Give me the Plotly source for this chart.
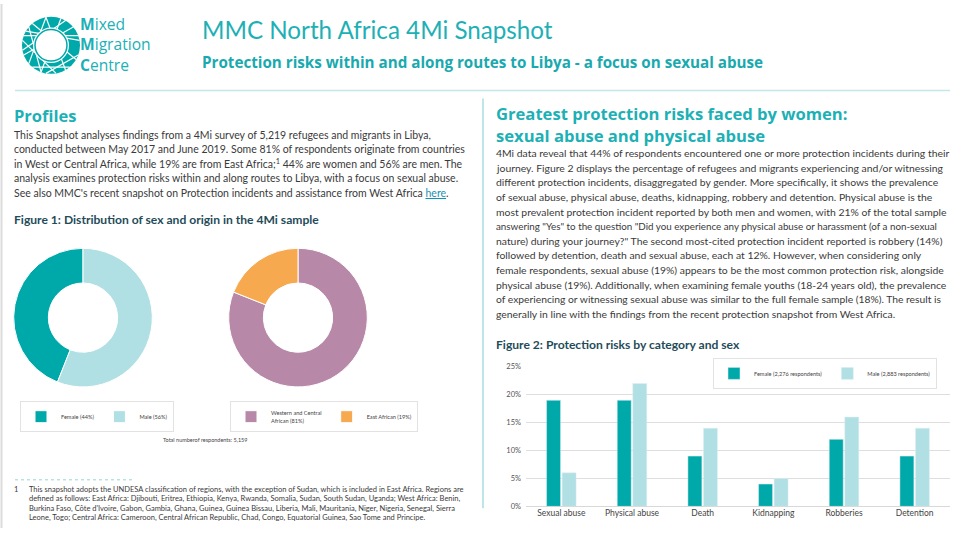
import math
import plotly.graph_objects as go

W, H = 965, 533
def fx(x): return x / W
def fy(y): return 1 - y / H

# ---------------- data ----------------
categories = ["Sexual abuse", "Physical abuse", "Death", "Kidnapping", "Robberies", "Detention"]
female_pct = [19, 19, 9, 4, 12, 9]
male_pct = [6, 22, 14, 5, 16, 14]
female_name = "Female (2,276 respondents)"
male_name = "Male (2,883 respondents)"

sex_labels = ["Female (44%)", "Male (56%)"]
sex_values = [44, 56]
origin_labels = ["Western and Central<br>African (81%)", "East African (19%)"]
origin_values = [81, 19]

y_ticks = [0, 5, 10, 15, 20, 25]
y_tick_labels = ["0%", "5%", "10%", "15%", "20%", "25%"]

TEAL = "#00a9a9"
LIGHT = "#b0e0e3"
PURPLE = "#b888a8"
ORANGE = "#f6a94e"
HEAD = "#1db0b5"
DARK = "#1f4c5a"
BODY = "#3a3a3a"
FONT = "Lato"
HFONT = "Open Sans"

fig = go.Figure()

fig.add_trace(go.Bar(x=categories, y=female_pct, name=female_name, marker_color=TEAL,
                     legend="legend", xaxis="x", yaxis="y"))
fig.add_trace(go.Bar(x=categories, y=male_pct, name=male_name, marker_color=LIGHT,
                     legend="legend", xaxis="x", yaxis="y"))

fig.add_trace(go.Pie(labels=sex_labels, values=sex_values, hole=0.5, sort=False,
                     direction="clockwise", rotation=201.6,
                     marker=dict(colors=[TEAL, LIGHT], line=dict(color="white", width=1)),
                     textinfo="none", legend="legend2",
                     domain=dict(x=[fx(12.5), fx(153.5)], y=[fy(389.5), fy(248.5)])))
fig.add_trace(go.Pie(labels=origin_labels, values=origin_values, hole=0.5, sort=False,
                     direction="clockwise", rotation=0,
                     marker=dict(colors=[PURPLE, ORANGE], line=dict(color="white", width=1)),
                     textinfo="none", legend="legend3",
                     domain=dict(x=[fx(227.5), fx(368.5)], y=[fy(389.5), fy(248.5)])))

shapes = []
def line(x0, y0, x1, y1, color, width=1, dash="solid"):
    shapes.append(dict(type="line", xref="paper", yref="paper", x0=fx(x0), y0=fy(y0),
                       x1=fx(x1), y1=fy(y1), line=dict(color=color, width=width, dash=dash)))
def circle(cx, cy, r, fill, lc=None, lw=0):
    shapes.append(dict(type="circle", xref="paper", yref="paper", x0=fx(cx - r), x1=fx(cx + r),
                       y0=fy(cy + r), y1=fy(cy - r), fillcolor=fill,
                       line=dict(color=lc or fill, width=lw)))

# page frame & dividers
line(1.5, 0, 1.5, 533, "#dcdcdc", 2)
line(15, 88, 950, 88, "#c3e8ea", 1.5)
line(483, 96, 483, 513, "#a8dde0", 1.5)
line(15, 484, 135, 484, "#8fd6d9", 1, "dot")

# logo
cx, cy = 51, 42
circle(cx, cy, 29, TEAL)
for a0, a1 in [(10, 150), (40, 200), (70, 250), (100, 300), (130, 330), (160, 20), (190, 60),
               (220, 100), (250, 140), (280, 170), (310, 230), (340, 260)]:
    x0 = cx + 29 * math.cos(math.radians(a0)); y0 = cy - 29 * math.sin(math.radians(a0))
    x1 = cx + 29 * math.cos(math.radians(a1)); y1 = cy - 29 * math.sin(math.radians(a1))
    line(x0, y0, x1, y1, "white", 1.2)
circle(cx, cy, 18, "white")
circle(cx, cy, 16, "rgba(0,0,0,0)", TEAL, 1.5)

fig.update_layout(shapes=shapes)

ann = []
def text(x, y, s, size, color=BODY, bold=False, anchor="left", family=FONT, align="left"):
    ann.append(dict(x=fx(x), y=fy(y), xref="paper", yref="paper", xanchor=anchor, yanchor="middle",
                    text=("<b>%s</b>" % s) if bold else s, showarrow=False, align=align,
                    borderpad=0, font=dict(size=size, color=color, family=family)))

# logo text
text(79, 41, "<b>M</b>ixed<br><b>M</b>igration<br><b>C</b>entre", 15.6, HEAD, family=HFONT)

# header
text(201, 26, "MMC North Africa 4Mi Snapshot", 24.2, HEAD)
text(201, 59, "Protection risks within and along routes to Libya - a focus on sexual abuse", 15.2,
     "#19a9ae", True, family=HFONT)

# left column
text(13, 113, "Profiles", 16.5, HEAD, True, family=HFONT)
left_lines = [
    "This Snapshot analyses findings from a 4Mi survey of 5,219 refugees and migrants in Libya,",
    "conducted between May 2017 and June 2019. Some 81% of respondents originate from countries",
    "in West or Central Africa, while 19% are from East Africa;<sup>1</sup> 44% are women and 56% are men. The",
    "analysis examines protection risks within and along routes to Libya, with a focus on sexual abuse.",
    "See also MMC's recent snapshot on Protection incidents and assistance from West Africa <span style='color:#1a8fb0'><u>here</u></span>.",
]
for i, s in enumerate(left_lines):
    text(13, 133 + i * 14.75, s, 10.5)

text(13, 219, "Figure 1: Distribution of sex and origin in the 4Mi sample", 12.1, DARK, True)
text(205, 443, "Total numberof respondents: 5,159", 5.5, "#444", anchor="center")

foot = [
    "This snapshot adopts the UNDESA classification of regions, with the exception of Sudan, which is included in East Africa. Regions are",
    "defined as follows: East Africa: Djibouti, Eritrea, Ethiopia, Kenya, Rwanda, Somalia, Sudan, South Sudan, Uganda; West Africa: Benin,",
    "Burkina Faso, Côte d'Ivoire, Gabon, Gambia, Ghana, Guinea, Guinea Bissau, Liberia, Mali, Mauritania, Niger, Nigeria, Senegal, Sierra",
    "Leone, Togo; Central Africa: Cameroon, Central African Republic, Chad, Congo, Equatorial Guinea, Sao Tome and Principe.",
]
text(13, 494, "1", 7.5)
for i, s in enumerate(foot):
    text(28, 494 + i * 9.4, s, 7.5)

# right column
text(495, 123, "Greatest protection risks faced by women:<br>sexual abuse and physical abuse", 16.6,
     HEAD, True, family=HFONT)
right_lines = [
    "4Mi data reveal that 44% of respondents encountered one or more protection incidents during their",
    "journey. Figure 2 displays the percentage of refugees and migrants experiencing and/or witnessing",
    "different protection incidents, disaggregated by gender. More specifically, it shows the prevalence",
    "of sexual abuse, physical abuse, deaths, kidnapping, robbery and detention. Physical abuse is the",
    "most prevalent protection incident reported by both men and women, with 21% of the total sample",
    "answering \"Yes\" to the question \"Did you experience any physical abuse or harassment (of a non-sexual",
    "nature) during your journey?\" The second most-cited protection incident reported is robbery (14%)",
    "followed by detention, death and sexual abuse, each at 12%. However, when considering only",
    "female respondents, sexual abuse (19%) appears to be the most common protection risk, alongside",
    "physical abuse (19%). Additionally, when examining female youths (18-24 years old), the prevalence",
    "of experiencing or witnessing sexual abuse was similar to the full female sample (18%). The result is",
    "generally in line with the findings from the recent protection snapshot from West Africa.",
]
right_sizes = [10.4, 10.4, 10.4, 10.4, 10.4, 9.8, 10.4, 10.4, 10.4, 10.4, 10.3, 10.4]
for i, s in enumerate(right_lines):
    text(495, 151.5 + i * 14.9, s, right_sizes[i])

text(495, 346, "Figure 2: Protection risks by category and sex", 12.1, DARK, True)

fig.update_layout(annotations=ann)

leg_common = dict(orientation="h", bgcolor="white", bordercolor="#e2e2e2", borderwidth=1,
                  font=dict(size=5.6, color="#444", family=FONT), yanchor="top",
                  itemwidth=30, traceorder="normal")
fig.update_layout(
    width=W, height=H, margin=dict(l=0, r=0, t=0, b=0),
    paper_bgcolor="white", plot_bgcolor="white",
    font=dict(family=FONT, color=BODY),
    barmode="group", bargap=0.56, bargroupgap=0.1,
    xaxis=dict(domain=[fx(526), fx(950)], anchor="y", showline=False, ticks="",
               tickfont=dict(size=8.5, color="#444"), showgrid=False, fixedrange=True),
    yaxis=dict(domain=[fy(511), fy(369)], anchor="x", range=[0, 25], tickvals=y_ticks,
               ticktext=y_tick_labels, gridcolor="#dedede", gridwidth=1, zeroline=True,
               zerolinecolor="#d8d8d8", zerolinewidth=1, tickfont=dict(size=7.5, color="#555"),
               ticks="", ticklabelstandoff=4),
    legend=dict(x=fx(937), y=fy(360), xanchor="right", **leg_common),
    legend2=dict(x=fx(97), y=fy(404), xanchor="center", **leg_common),
    legend3=dict(x=fx(324), y=fy(404), xanchor="center", **leg_common),
    showlegend=True,
)

fig.write_html("out.html", config={"displayModeBar": False},
               post_script="document.body.style.margin='0';document.body.style.padding='0';"
                           "document.body.style.overflow='hidden';")
